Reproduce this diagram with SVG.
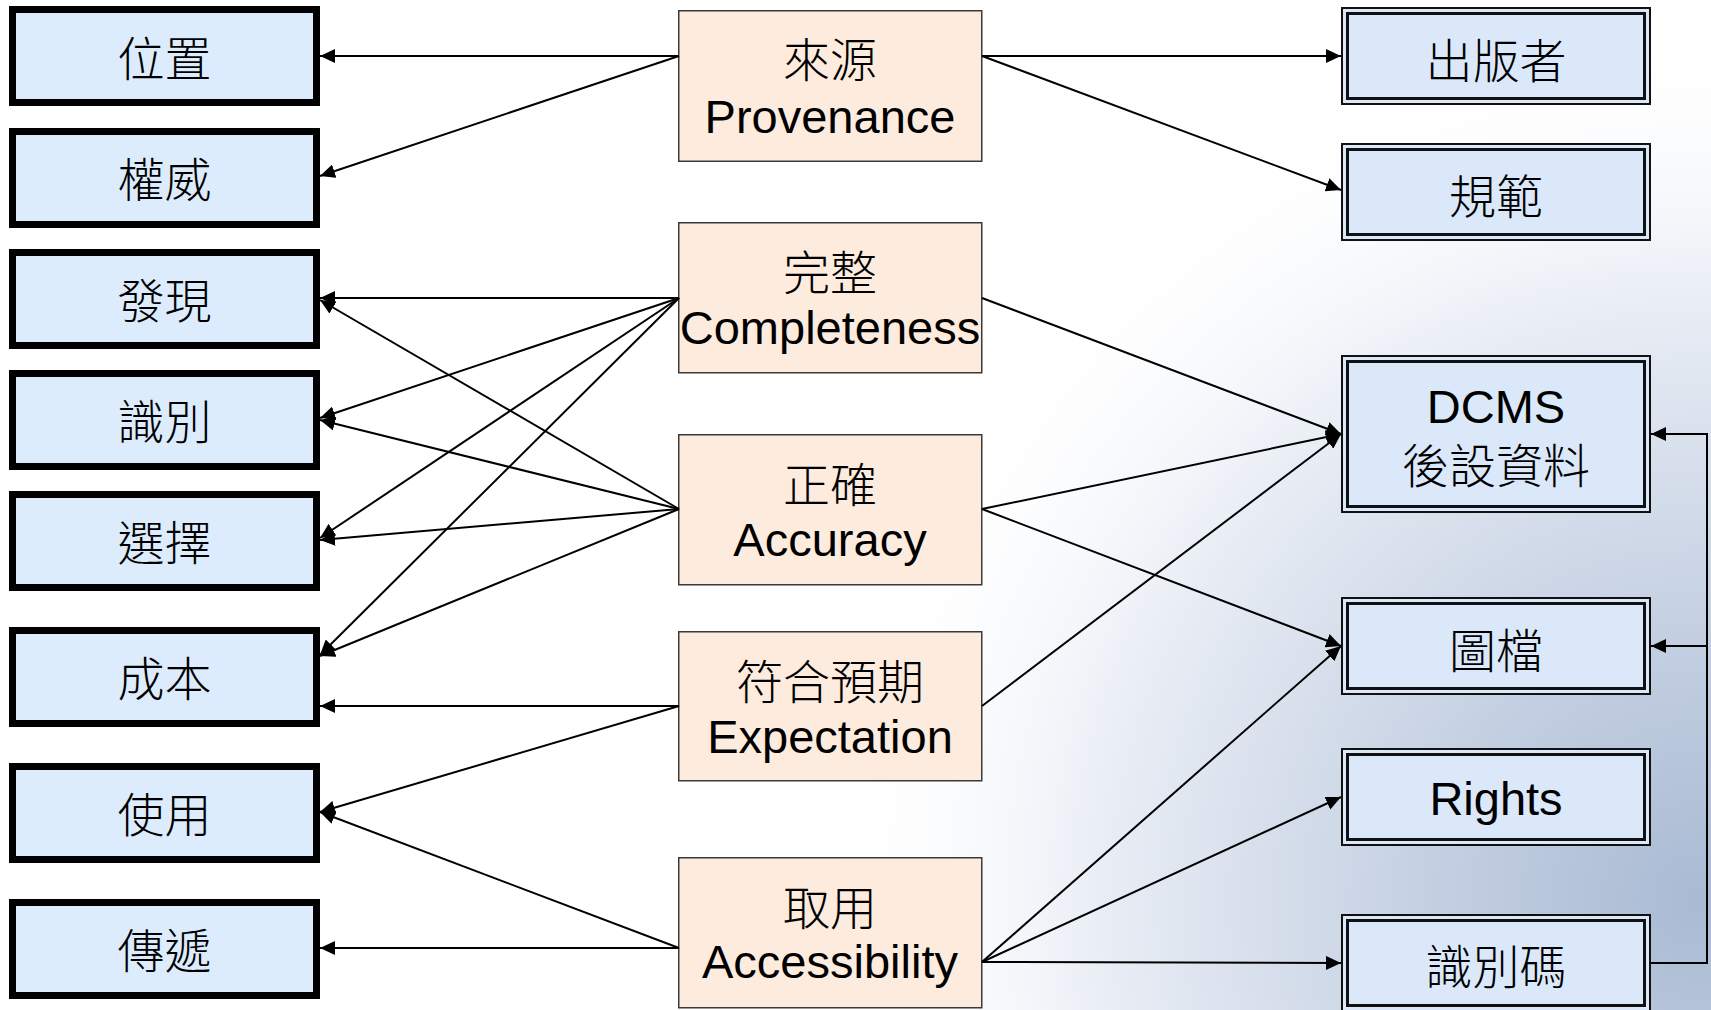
<svg xmlns="http://www.w3.org/2000/svg" width="1711" height="1010" viewBox="0 0 1711 1010">
<defs>
<radialGradient id="bg" cx="1700" cy="900" r="880" gradientUnits="userSpaceOnUse">
<stop offset="0" stop-color="#A9BAD3"/>
<stop offset="0.35" stop-color="#C8D3E4"/>
<stop offset="0.7" stop-color="#EBEFF6"/>
<stop offset="1" stop-color="#FFFFFF" stop-opacity="0"/>
</radialGradient>
<marker id="ah" markerUnits="userSpaceOnUse" markerWidth="16" markerHeight="14" refX="15" refY="7" orient="auto">
<path d="M0,0 L15,7 L0,14 z" fill="#000"/>
</marker>
<style>
.lb{fill:#DCECFD;stroke:#000;stroke-width:7}
.mb{fill:#FDEBDD;stroke:#3a3a3a;stroke-width:1.5}
.ro{fill:#DAE8FA;stroke:#111;stroke-width:2}
.ri{fill:none;stroke:#111;stroke-width:3}
.t{font-family:"Liberation Sans","Noto Sans CJK TC",Arial,sans-serif;font-size:47px;fill:#000;text-anchor:middle}
.k{font-weight:300}
.c line,.c polyline{stroke:#000;stroke-width:2;fill:none}
</style>
</defs>
<rect width="1711" height="1010" fill="#fff"/>
<rect width="1711" height="1010" fill="url(#bg)"/>

<g id="left-位置"><rect class="lb" x="12.5" y="9.5" width="304" height="93"/><text class="t k" x="164.5" y="76">位置</text></g>
<g id="left-權威"><rect class="lb" x="12.5" y="131.5" width="304" height="93"/><text class="t k" x="164.5" y="197">權威</text></g>
<g id="left-發現"><rect class="lb" x="12.5" y="252.5" width="304" height="93"/><text class="t k" x="164.5" y="318">發現</text></g>
<g id="left-識別"><rect class="lb" x="12.5" y="373.5" width="304" height="93"/><text class="t k" x="164.5" y="439">識別</text></g>
<g id="left-選擇"><rect class="lb" x="12.5" y="494.5" width="304" height="93"/><text class="t k" x="164.5" y="560">選擇</text></g>
<g id="left-成本"><rect class="lb" x="12.5" y="630.5" width="304" height="93"/><text class="t k" x="164.5" y="696">成本</text></g>
<g id="left-使用"><rect class="lb" x="12.5" y="766.5" width="304" height="93"/><text class="t k" x="164.5" y="832">使用</text></g>
<g id="left-傳遞"><rect class="lb" x="12.5" y="902.5" width="304" height="93"/><text class="t k" x="164.5" y="968">傳遞</text></g>

<g id="mid-provenance"><rect class="mb" x="678.75" y="10.75" width="303" height="150.5"/><text class="t k" x="830" y="77">來源</text><text class="t" x="830" y="133">Provenance</text></g>
<g id="mid-completeness"><rect class="mb" x="678.75" y="222.75" width="303" height="150"/><text class="t k" x="830" y="290">完整</text><text class="t" x="830" y="344">Completeness</text></g>
<g id="mid-accuracy"><rect class="mb" x="678.75" y="434.75" width="303" height="150"/><text class="t k" x="830" y="502">正確</text><text class="t" x="830" y="556">Accuracy</text></g>
<g id="mid-expectation"><rect class="mb" x="678.75" y="631.75" width="303" height="149"/><text class="t k" x="830" y="699">符合預期</text><text class="t" x="830" y="753">Expectation</text></g>
<g id="mid-accessibility"><rect class="mb" x="678.75" y="857.75" width="303" height="150"/><text class="t k" x="830" y="925">取用</text><text class="t" x="830" y="978">Accessibility</text></g>

<g id="right-出版者"><rect class="ro" x="1342" y="8" width="308" height="96"/><rect class="ri" x="1347.5" y="13.5" width="297" height="85"/><text class="t k" x="1496" y="78">出版者</text></g>
<g id="right-規範"><rect class="ro" x="1342" y="144" width="308" height="96"/><rect class="ri" x="1347.5" y="149.5" width="297" height="85"/><text class="t k" x="1496" y="214">規範</text></g>
<g id="right-DCMS"><rect class="ro" x="1342" y="356" width="308" height="156"/><rect class="ri" x="1347.5" y="361.5" width="297" height="145"/><text class="t" x="1496" y="423">DCMS</text><text class="t k" x="1496" y="483">後設資料</text></g>
<g id="right-圖檔"><rect class="ro" x="1342" y="598" width="308" height="96"/><rect class="ri" x="1347.5" y="603.5" width="297" height="85"/><text class="t k" x="1496" y="668">圖檔</text></g>
<g id="right-Rights"><rect class="ro" x="1342" y="749" width="308" height="96"/><rect class="ri" x="1347.5" y="754.5" width="297" height="85"/><text class="t" x="1496" y="815">Rights</text></g>
<g id="right-識別碼"><rect class="ro" x="1342" y="915" width="308" height="96"/><rect class="ri" x="1347.5" y="920.5" width="297" height="85"/><text class="t k" x="1496" y="984">識別碼</text></g>

<g id="connectors" class="c">
<line x1="679" y1="56" x2="320" y2="56" marker-end="url(#ah)"/>
<line x1="679" y1="56" x2="320" y2="176" marker-end="url(#ah)"/>
<line x1="982" y1="56" x2="1341" y2="56" marker-end="url(#ah)"/>
<line x1="982" y1="56" x2="1341" y2="190" marker-end="url(#ah)"/>
<line x1="679" y1="298" x2="320" y2="298" marker-end="url(#ah)"/>
<line x1="679" y1="298" x2="320" y2="418" marker-end="url(#ah)"/>
<line x1="679" y1="298" x2="320" y2="538" marker-end="url(#ah)"/>
<line x1="679" y1="298" x2="320" y2="655" marker-end="url(#ah)"/>
<line x1="982" y1="298" x2="1341" y2="434" marker-end="url(#ah)"/>
<line x1="679" y1="509" x2="320" y2="300" marker-end="url(#ah)"/>
<line x1="679" y1="509" x2="320" y2="420" marker-end="url(#ah)"/>
<line x1="679" y1="509" x2="320" y2="540" marker-end="url(#ah)"/>
<line x1="679" y1="509" x2="320" y2="656" marker-end="url(#ah)"/>
<line x1="982" y1="509" x2="1341" y2="434" marker-end="url(#ah)"/>
<line x1="982" y1="509" x2="1341" y2="646" marker-end="url(#ah)"/>
<line x1="679" y1="706" x2="320" y2="706" marker-end="url(#ah)"/>
<line x1="679" y1="706" x2="320" y2="812" marker-end="url(#ah)"/>
<line x1="982" y1="706" x2="1341" y2="434" marker-end="url(#ah)"/>
<line x1="679" y1="948" x2="320" y2="812" marker-end="url(#ah)"/>
<line x1="679" y1="948" x2="320" y2="948" marker-end="url(#ah)"/>
<line x1="982" y1="962" x2="1341" y2="646" marker-end="url(#ah)"/>
<line x1="982" y1="962" x2="1341" y2="797" marker-end="url(#ah)"/>
<line x1="982" y1="962" x2="1341" y2="963" marker-end="url(#ah)"/>
<polyline points="1651,963 1707,963 1707,434 1651,434" marker-end="url(#ah)"/>
<line x1="1707" y1="646" x2="1651" y2="646" marker-end="url(#ah)"/>
</g>
</svg>
